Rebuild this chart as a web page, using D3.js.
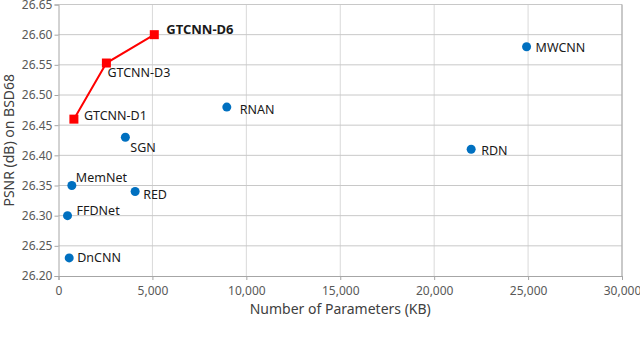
<!DOCTYPE html>
<html>
<head>
<meta charset="utf-8">
<script src="https://cdn.jsdelivr.net/npm/d3@7"></script>
<style>
  body { margin: 0; background: #fff; }
  svg { display: block; font-family: "Noto Sans", "Liberation Sans", sans-serif; }
</style>
</head>
<body>
<svg id="chart" width="640" height="341"></svg>
<script>
// data
var methods = ["DnCNN", "FFDNet", "MemNet", "RED", "SGN", "RNAN", "RDN", "MWCNN"];
var methodParams = [570, 480, 710, 4080, 3560, 8960, 21970, 24920];
var methodPsnr = [26.23, 26.30, 26.35, 26.34, 26.43, 26.48, 26.41, 26.58];

var ours = ["GTCNN-D1", "GTCNN-D3", "GTCNN-D6"];
var oursParams = [820, 2550, 5100];
var oursPsnr = [26.46, 26.553, 26.60];

var xTicks = [0, 5000, 10000, 15000, 20000, 25000, 30000];
var yTicks = [26.20, 26.25, 26.30, 26.35, 26.40, 26.45, 26.50, 26.55, 26.60, 26.65];

// label offsets from the marker [dx, dy]
var methodLabelOff = [[8, 0], [9, -5], [4, -8], [8, 3], [5, 10], [13, 3], [10, 1], [9, 1]];
var oursLabelOff = [[10, -4], [1, 10], [12, -5]];

var svg = d3.select("#chart");
var margin = {left: 58.5, right: 18, top: 4.5, bottom: 65};
var W = 640, H = 341;

var x = d3.scaleLinear().domain([0, 30000]).range([margin.left, W - margin.right]);
var y = d3.scaleLinear().domain([26.20, 26.65]).range([H - margin.bottom, margin.top]);

// grid
svg.append("g").selectAll("line").data(xTicks.slice(1)).enter().append("line")
  .attr("x1", function(d) { return x(d); }).attr("x2", function(d) { return x(d); })
  .attr("y1", y(26.65)).attr("y2", y(26.20))
  .attr("stroke", "#d9d9d9").attr("stroke-width", 1);
svg.append("g").selectAll("line").data(yTicks.slice(1)).enter().append("line")
  .attr("x1", x(0)).attr("x2", x(30000))
  .attr("y1", function(d) { return y(d); }).attr("y2", function(d) { return y(d); })
  .attr("stroke", "#c8c8c8").attr("stroke-width", 1);
// right border
svg.append("line").attr("x1", x(30000)).attr("x2", x(30000))
  .attr("y1", y(26.65)).attr("y2", y(26.20)).attr("stroke", "#a6a6a6");

// axes
var xAxis = d3.axisBottom(x).tickValues(xTicks).tickSize(4).tickPadding(6)
  .tickFormat(d3.format(","));
var yAxis = d3.axisLeft(y).tickValues(yTicks).tickSize(4).tickPadding(2)
  .tickFormat(d3.format(".2f"));

var xg = svg.append("g").attr("transform", "translate(0," + y(26.20) + ")").call(xAxis);
var yg = svg.append("g").attr("transform", "translate(" + x(0) + ",0)").call(yAxis);
[xg, yg].forEach(function(g) {
  g.select(".domain").attr("stroke", "#a6a6a6");
  g.selectAll(".tick line").attr("stroke", "#a6a6a6");
  g.selectAll(".tick text").attr("fill", "#595959")
    .style("font-size", "12px").style("font-family", "'Noto Sans', sans-serif");
});

// axis titles
svg.append("text")
  .attr("x", (x(0) + x(30000)) / 2).attr("y", 314)
  .attr("text-anchor", "middle").attr("fill", "#404040")
  .style("font-size", "14px")
  .text("Number of Parameters (KB)");
svg.append("text")
  .attr("transform", "translate(14," + (y(26.425)) + ") rotate(-90)")
  .attr("text-anchor", "middle").attr("fill", "#404040")
  .style("font-size", "14px")
  .text("PSNR (dB) on BSD68");

// other methods
var pts = methods.map(function(m, i) {
  return {name: m, p: methodParams[i], v: methodPsnr[i], off: methodLabelOff[i]};
});
svg.append("g").selectAll("circle").data(pts).enter().append("circle")
  .attr("cx", function(d) { return x(d.p); })
  .attr("cy", function(d) { return y(d.v); })
  .attr("r", 4.5).attr("fill", "#0070c0");
svg.append("g").selectAll("text").data(pts).enter().append("text")
  .attr("x", function(d) { return x(d.p) + d.off[0]; })
  .attr("y", function(d) { return y(d.v) + d.off[1]; })
  .attr("dy", "0.35em").attr("fill", "#1a1a1a")
  .style("font-size", "12.5px")
  .text(function(d) { return d.name; });

// ours
var ourPts = ours.map(function(m, i) {
  return {name: m, p: oursParams[i], v: oursPsnr[i], off: oursLabelOff[i]};
});
var line = d3.line().x(function(d) { return x(d.p); }).y(function(d) { return y(d.v); });
svg.append("path").datum(ourPts).attr("d", line)
  .attr("fill", "none").attr("stroke", "#ff0000").attr("stroke-width", 2);
svg.append("g").selectAll("rect").data(ourPts).enter().append("rect")
  .attr("x", function(d) { return x(d.p) - 4.5; })
  .attr("y", function(d) { return y(d.v) - 4.5; })
  .attr("width", 9).attr("height", 9).attr("fill", "#ff0000");
svg.append("g").selectAll("text").data(ourPts).enter().append("text")
  .attr("x", function(d) { return x(d.p) + d.off[0]; })
  .attr("y", function(d) { return y(d.v) + d.off[1]; })
  .attr("dy", "0.35em").attr("fill", "#1a1a1a")
  .style("font-size", function(d, i) { return i === 2 ? "13px" : "12.5px"; })
  .style("font-weight", function(d, i) { return i === 2 ? "bold" : "normal"; })
  .text(function(d) { return d.name; });
</script>
</body>
</html>
